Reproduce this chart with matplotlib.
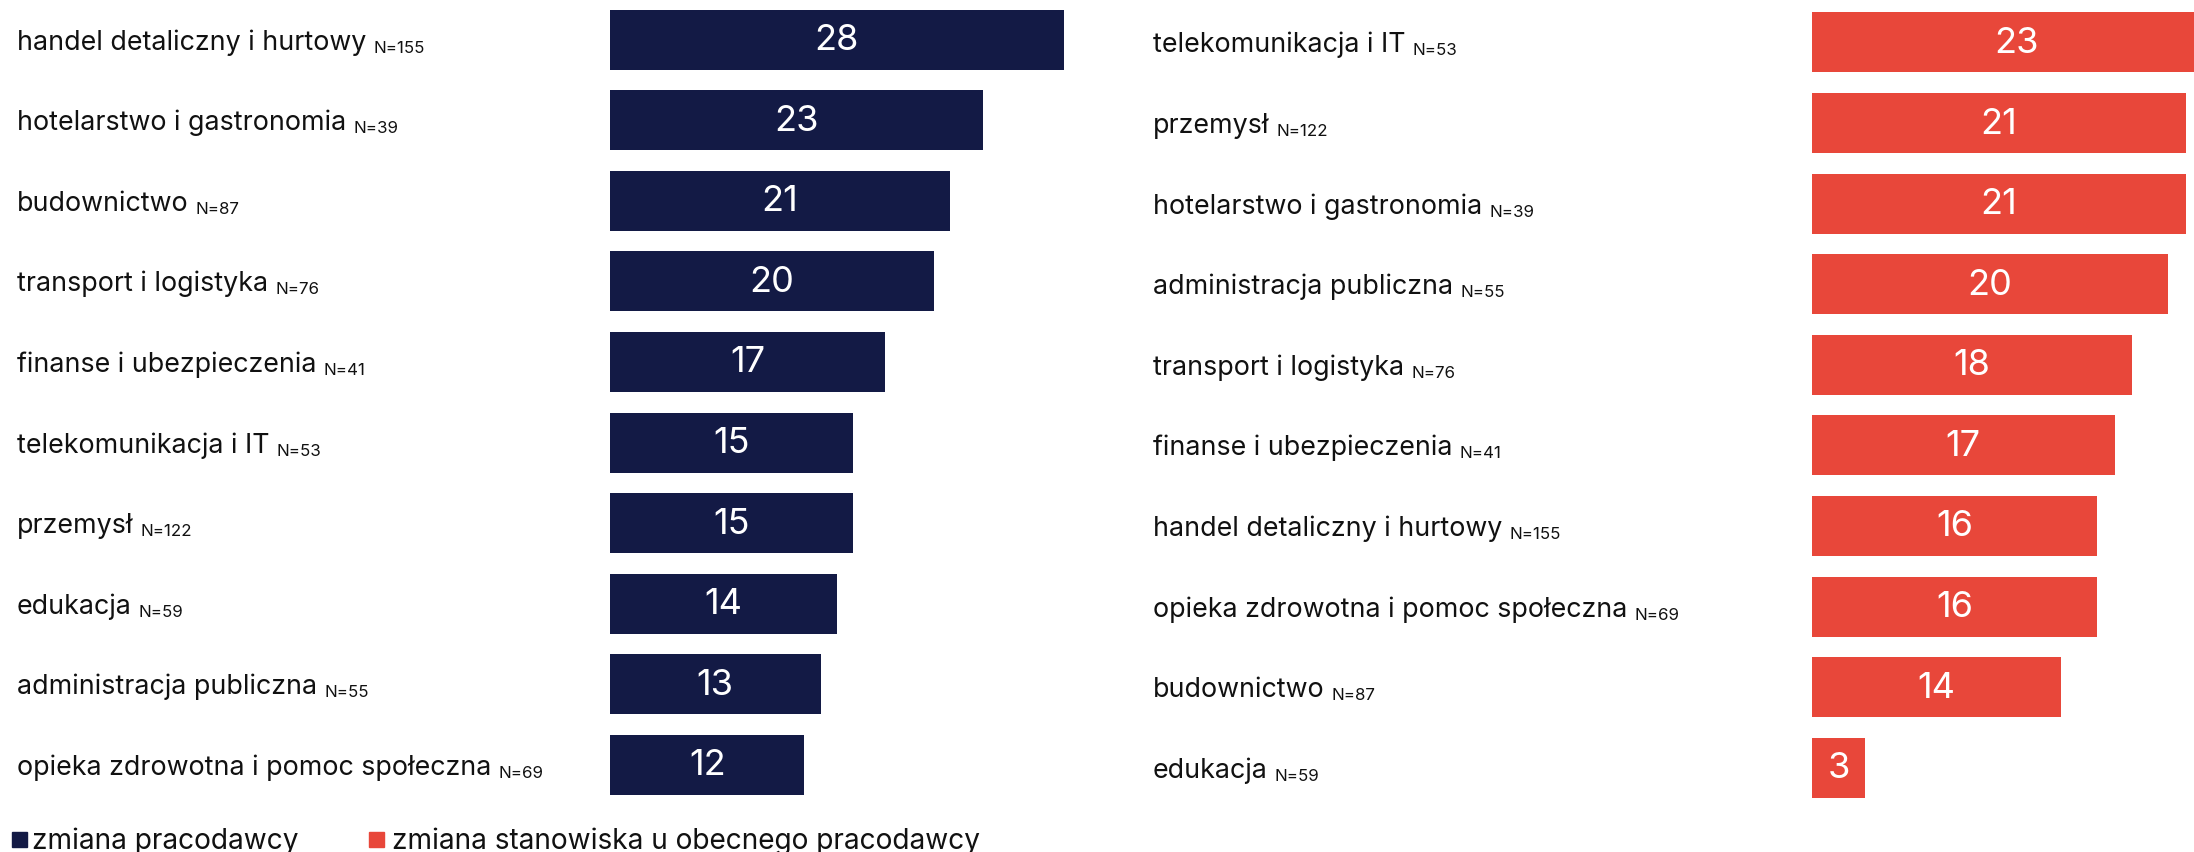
import matplotlib.pyplot as plt

# dane: lewy panel - zmiana pracodawcy
branze_lewe = ["handel detaliczny i hurtowy", "hotelarstwo i gastronomia", "budownictwo",
               "transport i logistyka", "finanse i ubezpieczenia", "telekomunikacja i IT",
               "przemysł", "edukacja", "administracja publiczna",
               "opieka zdrowotna i pomoc społeczna"]
n_lewe = [155, 39, 87, 76, 41, 53, 122, 59, 55, 69]
wart_lewe = [28, 23, 21, 20, 17, 15, 15, 14, 13, 12]

# prawy panel - zmiana stanowiska u obecnego pracodawcy
branze_prawe = ["telekomunikacja i IT", "przemysł", "hotelarstwo i gastronomia",
                "administracja publiczna", "transport i logistyka", "finanse i ubezpieczenia",
                "handel detaliczny i hurtowy", "opieka zdrowotna i pomoc społeczna",
                "budownictwo", "edukacja"]
n_prawe = [53, 122, 39, 55, 76, 41, 155, 69, 87, 59]
wart_prawe = [23, 21, 21, 20, 18, 17, 16, 16, 14, 3]

legenda = ["zmiana pracodawcy", "zmiana stanowiska u obecnego pracodawcy"]

GRANAT = "#131a45"
CZERWONY = "#e8473a"
TEKST = "#111111"
W, H = 2194, 853
KROK = 80.6  # odstep miedzy wierszami w px

plt.rcParams['font.family'] = ['Inter', 'DejaVu Sans']

fig = plt.figure(figsize=(W / 100, H / 100), dpi=100)


def panel(x0_px, szer_px, xmax, y_off_px, branze, nn, wart, kolor, x_etyk_px):
    ax = fig.add_axes([x0_px / W, 0, szer_px / W, 1])
    ax.set_ylim((H - y_off_px) / KROK, -y_off_px / KROK)
    ax.set_xlim(0, xmax)
    ax.axis("off")
    ypos = list(range(len(wart)))
    ax.barh(ypos, wart, height=0.745, color=kolor)
    for y, v in zip(ypos, wart):
        ax.text(v / 2, y, str(v), color="white", fontsize=26,
                ha="center", va="center")
    for y, b, n in zip(ypos, branze, nn):
        tt = ax.annotate(b, xy=(x_etyk_px / W, y + 9 / KROK),
                         xycoords=("figure fraction", "data"),
                         fontsize=19.3, color=TEKST, va="baseline", ha="left",
                         annotation_clip=False)
        ax.annotate(f"N={n}", xy=(1, 0), xycoords=tt, xytext=(5, 0),
                    textcoords="offset points", fontsize=12.2, color=TEKST,
                    va="bottom", ha="left", annotation_clip=False)
    return ax


panel(610, 16.2 * 30, 30, 40.6, branze_lewe, n_lewe, wart_lewe, GRANAT, 17)
panel(1812, 382, 382 / 17.8, 43.4, branze_prawe, n_prawe, wart_prawe, CZERWONY, 1153)

# legenda na dole (ucieta przy krawedzi jak w oryginale)
for x_kw, x_txt, kol, txt in [(12, 32, GRANAT, legenda[0]), (369, 392, CZERWONY, legenda[1])]:
    fig.patches.append(plt.Rectangle((x_kw / W, 5 / H), 15 / W, 15 / H, color=kol,
                                     transform=fig.transFigure, figure=fig))
    fig.text(x_txt / W, 4 / H, txt, fontsize=20.2, color=TEKST, va="baseline", ha="left")

fig.savefig("out.png", dpi=100)
